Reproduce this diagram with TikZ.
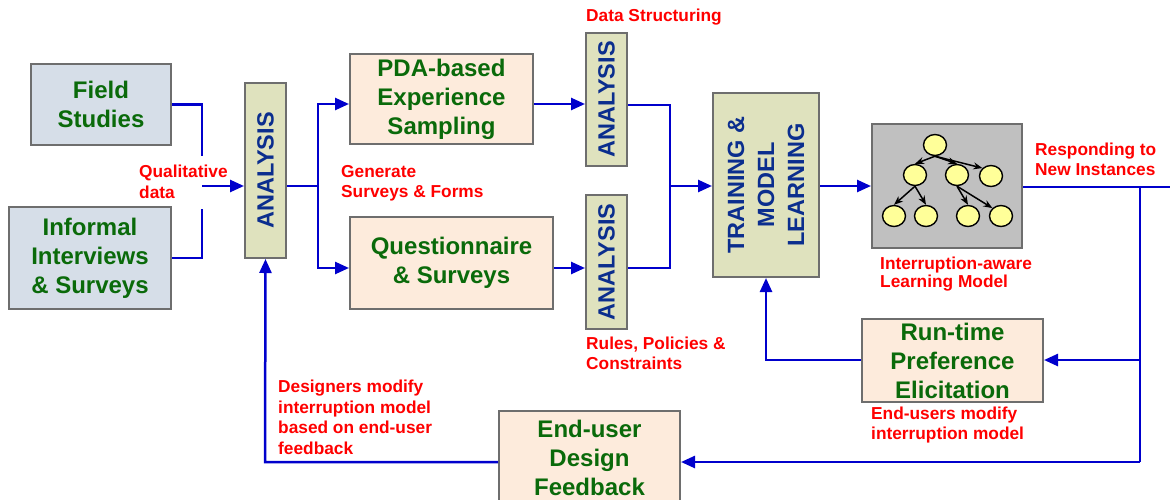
\documentclass[tikz,border=0pt]{standalone}
\usepackage{fontspec}
\setmainfont{Liberation Sans}
\usetikzlibrary{arrows.meta,calc,shapes.geometric}
\definecolor{boxgray}{HTML}{6E6E6E}
\definecolor{bluegray}{HTML}{D6DEE8}
\definecolor{beige}{HTML}{FDEBDC}
\definecolor{olive}{HTML}{DFE2BE}
\definecolor{modelgray}{HTML}{C0C0C0}
\definecolor{txtgreen}{HTML}{0A6A0A}
\definecolor{txtblue}{HTML}{0B2E8E}
\definecolor{connblue}{HTML}{0000CC}
\definecolor{lblred}{HTML}{FF0000}
\definecolor{nodeyellow}{HTML}{FFFF99}
\tikzset{
  basebox/.style={draw=boxgray, line width=2pt, inner sep=0pt, align=center},
  greybox/.style={basebox, fill=bluegray},
  beigebox/.style={basebox, fill=beige},
  anbox/.style={basebox, fill=olive},
  greentext/.style={text=txtgreen, font=\fontsize{24}{29}\selectfont\bfseries},
  bluetext/.style={text=txtblue, font=\fontsize{23.5}{30}\selectfont\bfseries, rotate=90, align=center, inner sep=0pt},
  redlabel/.style={text=lblred, font=\fontsize{17.3}{20.5}\selectfont\bfseries, align=left, inner sep=0pt, anchor=west},
  conn/.style={draw=connblue, line width=2.5pt, line join=miter},
  arr/.style={conn, -{Triangle[length=14pt,width=12pt]}},
  treenode/.style={ellipse, draw=black, line width=1.4pt, fill=nodeyellow, minimum width=23pt, minimum height=21pt, inner sep=0pt},
  treearr/.style={draw=black, line width=1.5pt, -{Stealth[length=9pt,width=7pt]}}
}
\begin{document}
\begin{tikzpicture}[x=1pt,y=-1pt]
\useasboundingbox (0,0) rectangle (1170,499);
\clip (0,0) rectangle (1170,499);
% boxes
\node[greybox, greentext, minimum width=140pt, minimum height=81pt] (field) at (101,104.5) {Field\\Studies};
\node[greybox, greentext, minimum width=162pt, minimum height=102pt] (informal) at (90,258) {Informal\\Interviews\\\& Surveys};
\node[anbox, minimum width=41pt, minimum height=175pt] (an1) at (265.5,170.5) {};
\node[bluetext] (an1t) at (an1) {ANALYSIS};
\node[beigebox, greentext, minimum width=183pt, minimum height=90pt] (pda) at (441.5,99) {PDA-based\\Experience\\Sampling};
\node[beigebox, greentext, minimum width=203pt, minimum height=92pt] (quest) at (451.5,263) {Questionnaire\\\& Surveys};
\node[anbox, minimum width=41pt, minimum height=133pt] (an2) at (606.5,99.5) {};
\node[bluetext] (an2t) at (an2) {ANALYSIS};
\node[anbox, minimum width=41pt, minimum height=134pt] (an3) at (606.5,262) {};
\node[bluetext] (an3t) at (an3) {ANALYSIS};
\node[anbox, minimum width=106pt, minimum height=184pt] (train) at (766,185) {};
\node[bluetext] (traint) at (train) {TRAINING \&\\MODEL\\LEARNING};
\node[basebox, fill=modelgray, minimum width=150pt, minimum height=124pt] (model) at (947,186) {};
\node[beigebox, greentext, minimum width=181pt, minimum height=83pt] (runtime) at (952.5,360.5) {Run-time\\Preference\\Elicitation};
\node[beigebox, greentext, minimum width=181pt, minimum height=94pt] (enduser) at (589.5,458) {End-user\\Design\\Feedback};
% tree
\node[treenode] (r) at (935,145) {};
\node[treenode] (a) at (915,175) {};
\node[treenode] (b) at (957,175) {};
\node[treenode] (c) at (991,176) {};
\node[treenode] (a1) at (894,216) {};
\node[treenode] (a2) at (926,216) {};
\node[treenode] (b1) at (968,216) {};
\node[treenode] (b2) at (1001,216) {};
\draw[treearr] (r.south) -- (a.north);
\draw[treearr] (r.south) -- (b.north);
\draw[treearr] (r.south) -- (c.north west);
\draw[treearr] (a.south) -- (a1.north);
\draw[treearr] (a.south) -- (a2.north);
\draw[treearr] (b.south) -- (b1.north);
\draw[treearr] (b.south) -- (b2.north west);
% coordinates
\coordinate (j1) at (202,156);
\coordinate (j2) at (202,209);
\coordinate (q0) at (202,186);
\coordinate (s1) at (318,186);
\coordinate (s1t) at (318,104);
\coordinate (s1b) at (318,268);
\coordinate (m1) at (670,105);
\coordinate (m2) at (670,268);
\coordinate (m0) at (670,186);
\coordinate (rt) at (1140,187);
\coordinate (redge) at (1171,187);
\coordinate (rm) at (1140,360);
\coordinate (rb) at (1140,462);
\coordinate (lb) at (265,462);
\coordinate (tb) at (766,360);
% connectors
\draw[conn] (field.east) -| (j1);
\draw[conn] (informal.east) -| (j2);
\draw[arr] (q0) -- (an1.west |- q0);
\draw[conn] (an1.east |- q0) -- (s1);
\draw[arr] (s1) -- (s1t) -- (pda.west |- s1t);
\draw[arr] (s1) -- (s1b) -- (quest.west |- s1b);
\draw[arr] (pda.east |- s1t) -- (an2.west |- s1t);
\draw[arr] (quest.east |- s1b) -- (an3.west |- s1b);
\draw[conn] (an2.east |- m1) -- (m1) -- (m2) -- (an3.east |- m2);
\draw[arr] (m0) -- (train.west |- m0);
\draw[arr] (train.east |- model.west) -- (model.west);
\draw[conn] (model.east |- rt) -- (redge);
\draw[conn] (rt) -- (rb);
\draw[arr] (rm) -- (runtime.east |- rm);
\draw[arr] (runtime.west |- tb) -- (tb) -- (train.south);
\draw[arr] (rb) -- (enduser.east |- rb);
\draw[arr] (enduser.west |- lb) -- (lb) -- (an1.south);
% labels
\node[redlabel] (lq) at (139,182) {Qualitative\\data};
\node[redlabel] (lg) at (341,183) {Generate\\Surveys \& Forms};
\node[redlabel] (ld) at (586,17) {Data Structuring};
\node[redlabel] (lr) at (586,353.5) {Rules, Policies \&\\Constraints};
\node[redlabel] (lresp) at (1035,159.5) {Responding to\\New Instances};
\node[redlabel, font=\fontsize{17.3}{18.5}\selectfont\bfseries] (li) at (880,274) {Interruption-aware\\Learning Model};
\node[redlabel] (le) at (871,425) {End-users modify\\interruption model};
\node[redlabel] (ldes) at (278,417.5) {Designers modify\\interruption model\\based on end-user\\feedback};
\end{tikzpicture}
\end{document}
